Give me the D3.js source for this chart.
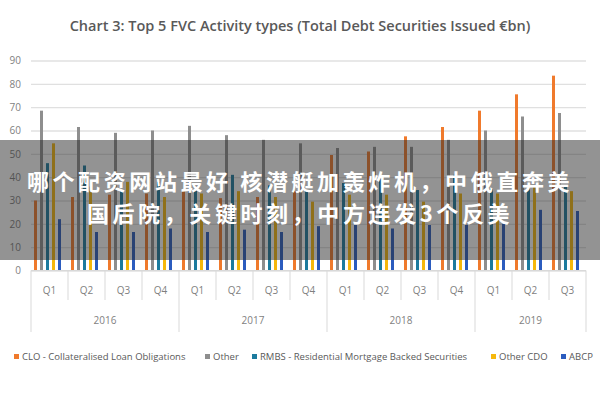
<!DOCTYPE html>
<html>
<head>
<meta charset="utf-8">
<script src="https://cdn.jsdelivr.net/npm/d3@7"></script>
<style>
  body { margin: 0; background: #fff; }
  svg { display: block; }
</style>
</head>
<body>
<div id="chart"></div>
<script>
// data
const years = ["2016", "2017", "2018", "2019"];
const quarters = ["Q1", "Q2", "Q3", "Q4"];
const periods = [
    "2016 Q1", "2016 Q2", "2016 Q3", "2016 Q4",
    "2017 Q1", "2017 Q2", "2017 Q3", "2017 Q4",
    "2018 Q1", "2018 Q2", "2018 Q3", "2018 Q4",
    "2019 Q1", "2019 Q2", "2019 Q3"
];
const seriesNames = [
    "CLO - Collateralised Loan Obligations",
    "Other",
    "RMBS - Residential Mortgage Backed Securities",
    "Other CDO",
    "ABCP"
];
const cloValues   = [30, 31.5, 32.5, 33, 34, 31, 31.5, 34, 49.5, 51, 57.5, 61.5, 68.5, 75.5, 83.5];
const otherValues = [68.5, 61.5, 59, 60, 62, 58, 56, 54.5, 52.5, 53, 53, 56, 60, 66, 67.5];
const rmbsValues  = [46, 45, 34.5, 38, 34.5, 41, 36.5, 34.5, 37.5, 39.5, 34.5, 41, 35, 36.5, 36.5];
const cdoValues   = [54.5, 36, 38, 31.5, 33, 34, 31.5, 29.5, 32.5, 32.5, 29.5, 33, 33, 36, 34];
const abcpValues  = [22, 16.5, 16.5, 18, 16.5, 17.5, 16.5, 19, 19.5, 18, 19.5, 19.5, 20, 26, 25.5];
const yTicks = [0, 10, 20, 30, 40, 50, 60, 70, 80, 90];

const seriesValues = [cloValues, otherValues, rmbsValues, cdoValues, abcpValues];
const colors = ["#f07a2c", "#8e8e8e", "#1c7b9e", "#f6b80c", "#2b5cbf"];
const labelFont = "'Open Sans', sans-serif";

const width = 600;
const height = 400;
const plotLeft = 31;
const plotRight = 586;

const svg = d3.select("#chart")
    .append("svg")
    .attr("width", width)
    .attr("height", height);

const x0 = d3.scaleBand()
    .domain(periods)
    .range([plotLeft, plotRight]);

const x1 = d3.scaleBand()
    .domain(seriesNames)
    .range([0, x0.bandwidth() - 4])
    .paddingInner(0.5)
    .paddingOuter(0.5);

const y = d3.scaleLinear()
    .domain([0, 90])
    .range([270.5, 60.5]);

// title
svg.append("text")
    .text("Chart 3: Top 5 FVC Activity types (Total Debt Securities Issued €bn)")
    .attr("x", width / 2)
    .attr("y", 31)
    .attr("text-anchor", "middle")
    .attr("font-family", labelFont)
    .attr("font-weight", 600)
    .attr("font-size", 14.5)
    .attr("fill", "#595959");

// grid + y labels
const yAxis = d3.axisLeft(y)
    .tickValues(yTicks)
    .tickSize(-(plotRight - plotLeft))
    .tickPadding(10);

svg.append("g")
    .attr("class", "yAxis")
    .attr("transform", "translate(" + plotLeft + ",0)")
    .call(yAxis)
    .call(g => g.select(".domain").remove())
    .call(g => g.selectAll(".tick line")
        .attr("stroke", "#e0e0e0")
        .attr("stroke-width", 1.3))
    .call(g => g.selectAll(".tick text")
        .attr("font-family", labelFont)
        .attr("font-size", 10)
        .attr("fill", "#7f7f7f"));

// bars
const rows = periods.map((p, i) => ({
    period: p,
    values: seriesNames.map((s, j) => ({ name: s, value: seriesValues[j][i], color: colors[j] }))
}));

svg.append("g")
    .attr("class", "bars")
    .selectAll("g")
    .data(rows)
    .join("g")
    .attr("transform", d => "translate(" + x0(d.period) + ",0)")
    .selectAll("rect")
    .data(d => d.values)
    .join("rect")
    .attr("x", d => x1(d.name))
    .attr("y", d => y(d.value))
    .attr("width", x1.bandwidth())
    .attr("height", d => y(0) - y(d.value))
    .attr("fill", d => d.color);

// category axis: baseline, quarter ticks, year ticks
const axisG = svg.append("g").attr("class", "xAxis");

axisG.append("line")
    .attr("x1", plotLeft)
    .attr("x2", plotRight)
    .attr("y1", y(0))
    .attr("y2", y(0))
    .attr("stroke", "#d9d9d9");

const yearOf = p => p.split(" ")[0];
const quarterOf = p => p.split(" ")[1];

const isYearStart = (p, i) => i === 0 || yearOf(periods[i - 1]) !== yearOf(p);

axisG.selectAll("line.qtick")
    .data(periods)
    .join("line")
    .attr("class", "qtick")
    .attr("x1", d => x0(d))
    .attr("x2", d => x0(d))
    .attr("y1", y(0))
    .attr("y2", (d, i) => isYearStart(d, i) ? 332 : 300)
    .attr("stroke", "#d9d9d9");

axisG.append("line")
    .attr("x1", plotRight)
    .attr("x2", plotRight)
    .attr("y1", y(0))
    .attr("y2", 332)
    .attr("stroke", "#d9d9d9");

axisG.selectAll("text.qlabel")
    .data(periods)
    .join("text")
    .attr("class", "qlabel")
    .attr("x", d => x0(d) + x0.bandwidth() / 2)
    .attr("y", 294)
    .attr("text-anchor", "middle")
    .attr("font-family", labelFont)
    .attr("font-size", 10)
    .attr("fill", "#7f7f7f")
    .text(d => quarterOf(d));

axisG.selectAll("text.ylabel")
    .data(years)
    .join("text")
    .attr("class", "ylabel")
    .attr("x", yr => {
        const ps = periods.filter(p => yearOf(p) === yr);
        return (x0(ps[0]) + x0(ps[ps.length - 1]) + x0.bandwidth()) / 2;
    })
    .attr("y", 324)
    .attr("text-anchor", "middle")
    .attr("font-family", labelFont)
    .attr("font-size", 10)
    .attr("fill", "#7f7f7f")
    .text(d => d);

// legend
const legendX = [14, 205, 252, 491, 561];
const legend = svg.append("g")
    .attr("class", "legend")
    .selectAll("g")
    .data(seriesNames)
    .join("g")
    .attr("transform", (d, i) => "translate(" + legendX[i] + ",360)");

legend.append("rect")
    .attr("x", 0)
    .attr("y", -6)
    .attr("width", 5)
    .attr("height", 5)
    .attr("fill", (d, i) => colors[i]);

legend.append("text")
    .attr("x", 8)
    .attr("y", 0)
    .attr("font-family", labelFont)
    .attr("font-size", 9.5)
    .attr("fill", "#595959")
    .text(d => d);

// dark banner with caption laid over the picture
svg.append("rect")
    .attr("x", 0)
    .attr("y", 140)
    .attr("width", width)
    .attr("height", 120)
    .attr("fill", "rgba(40,40,40,0.5)");

const caption = [
    "哪个配资网站最好 核潜艇加轰炸机，中俄直奔美",
    "国后院，关键时刻，中方连发3个反美"
];

svg.append("g")
    .selectAll("text")
    .data(caption)
    .join("text")
    .attr("x", width / 2)
    .attr("y", (d, i) => 190 + i * 32)
    .attr("text-anchor", "middle")
    .attr("font-family", "'Noto Sans CJK SC', sans-serif")
    .attr("font-weight", "bold")
    .attr("font-size", 22)
    .attr("letter-spacing", 3.6)
    .attr("fill", "#ffffff")
    .text(d => d);
</script>
</body>
</html>
